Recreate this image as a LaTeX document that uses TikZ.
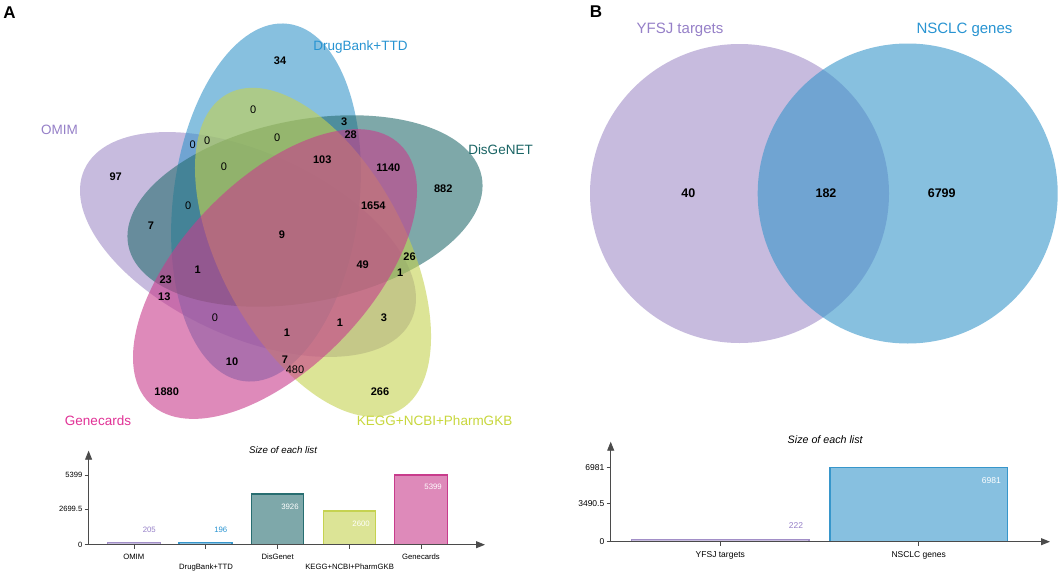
\documentclass[tikz,border=0pt]{standalone}
\usepackage{fontspec}
\setmainfont{Liberation Sans}
\usetikzlibrary{arrows.meta}
\definecolor{cOmim}{RGB}{162,143,200}
\definecolor{cDrug}{RGB}{55,150,203}
\definecolor{cDis}{RGB}{40,110,113}
\definecolor{cKegg}{RGB}{197,210,80}
\definecolor{cGene}{RGB}{200,60,140}
\definecolor{tOmim}{RGB}{150,128,200}
\definecolor{tDrug}{RGB}{40,148,210}
\definecolor{tDis}{RGB}{25,100,100}
\definecolor{tKegg}{RGB}{200,215,60}
\definecolor{tGene}{RGB}{225,50,150}
\definecolor{axisgray}{RGB}{75,75,75}
\begin{document}
\begin{tikzpicture}[x=1pt,y=-1pt,
  venn/.style={fill opacity=0.6},
  setlab/.style={font=\fontsize{13.5}{16}\selectfont, inner sep=0, anchor=base},
  blab/.style={font=\fontsize{15}{18}\selectfont, inner sep=0, anchor=base},
  nb/.style={font=\fontsize{11}{13}\selectfont\bfseries, inner sep=0},
  nn/.style={font=\fontsize{11}{13}\selectfont, inner sep=0},
  bnum/.style={font=\fontsize{12.5}{15}\selectfont\bfseries, inner sep=0},
  panel/.style={font=\fontsize{17}{20}\selectfont\bfseries, inner sep=0, anchor=base},
  axisline/.style={draw=axisgray, line width=0.9pt, -{Triangle[length=9pt,width=7pt]}},
  tickline/.style={draw=axisgray, line width=0.7pt},
  ticklabA/.style={font=\fontsize{7.6}{9}\selectfont, inner sep=0, anchor=east},
  ticklabB/.style={font=\fontsize{8.5}{10}\selectfont, inner sep=0, anchor=east},
  xlabA/.style={font=\fontsize{7.7}{9}\selectfont, inner sep=0, anchor=base},
  xlabB/.style={font=\fontsize{8.5}{10}\selectfont, inner sep=0, anchor=base},
  valA/.style={font=\fontsize{7.8}{9}\selectfont, inner sep=0, anchor=east},
  valB/.style={font=\fontsize{8.5}{10}\selectfont, inner sep=0, anchor=east},
  bar/.style={line width=1.1pt},
  charttitle/.style={font=\itshape, inner sep=0, anchor=base}
]
\useasboundingbox (0,0) rectangle (1059,570);
\fill[white] (0,0) rectangle (1059,570);

% ---------------- Panel A : five-set Venn ----------------
\coordinate (eOmim) at (248,244.5);
\coordinate (eDrug) at (266,202.5);
\coordinate (eDis)  at (305,211);
\coordinate (eKegg) at (313,252.3);
\coordinate (eGene) at (275,274);
\fill[cOmim, venn, rotate around={-24.7:(eOmim)}] (eOmim) ellipse [x radius=180pt, y radius=92pt];
\fill[cDrug, venn, rotate around={83:(eDrug)}] (eDrug) ellipse [x radius=180pt, y radius=93pt];
\fill[cDis,  venn, rotate around={11:(eDis)}]  (eDis)  ellipse [x radius=180pt, y radius=91pt];
\fill[cKegg, venn, rotate around={-61.7:(eKegg)}] (eKegg) ellipse [x radius=180pt, y radius=92.6pt];
\fill[cGene, venn, rotate around={46:(eGene)}] (eGene) ellipse [x radius=180pt, y radius=93.5pt];

\node[panel] (pA) at (9.5,18.6) {A};
\node[setlab, text=tDrug] (lDrug) at (360.5,50) {DrugBank+TTD};
\node[setlab, text=tOmim] (lOmim) at (59.5,134) {OMIM};
\node[setlab, text=tDis]  (lDis)  at (500.5,154) {DisGeNET};
\node[setlab, text=tGene] (lGene) at (98,425.4) {Genecards};
\node[setlab, text=tKegg] (lKegg) at (434.6,425.4) {KEGG+NCBI+PharmGKB};

\node[nb] (r1)  at (280,61) {34};
\node[nn] (r2)  at (253.3,110) {0};
\node[nb] (r3)  at (344.3,122) {3};
\node[nb] (r4)  at (350.7,135) {28};
\node[nn] (r5)  at (192.7,145) {0};
\node[nn] (r6)  at (207.3,140.7) {0};
\node[nn] (r7)  at (277.3,137.7) {0};
\node[nb] (r8)  at (322.3,160) {103};
\node[nb] (r9)  at (388.3,167.3) {1140};
\node[nn] (r10) at (224,166.7) {0};
\node[nb] (r11) at (115.7,176.7) {97};
\node[nb] (r12) at (443.3,188.3) {882};
\node[nn] (r13) at (188.3,206) {0};
\node[nb] (r14) at (373.3,206) {1654};
\node[nb] (r15) at (151,225.7) {7};
\node[nb] (r16) at (282,235) {9};
\node[nb] (r17) at (409.5,256.5) {26};
\node[nb] (r18) at (362.7,264.3) {49};
\node[nb] (r19) at (197.7,270) {1};
\node[nb] (r20) at (400.3,272.5) {1};
\node[nb] (r21) at (165.7,280) {23};
\node[nb] (r22) at (164.3,296.7) {13};
\node[nn] (r23) at (215,318) {0};
\node[nb] (r24) at (384,318) {3};
\node[nb] (r25) at (340,322.7) {1};
\node[nb] (r26) at (287,332.7) {1};
\node[nb] (r27) at (232,362) {10};
\node[nb] (r28) at (285,360) {7};
\node[nn] (r29) at (295,369.5) {480};
\node[nb] (r30) at (166.7,391.7) {1880};
\node[nb] (r31) at (380,391.7) {266};

% ---------------- Panel A : bar chart ----------------
\node[charttitle, font=\fontsize{9.7}{11}\selectfont\itshape] (tA) at (283,453.5) {Size of each list};
\draw[bar, draw=cOmim, fill=cOmim!60] (107.5,544.7) rectangle (160.2,542.1);
\draw[bar, draw=cDrug, fill=cDrug!60] (179,544.7) rectangle (232,542.2);
\draw[bar, draw=cDis,  fill=cDis!60]  (251.5,544.7) rectangle (303.5,494);
\draw[bar, draw=cKegg, fill=cKegg!60] (323.5,544.7) rectangle (375.2,511);
\draw[bar, draw=cGene, fill=cGene!60] (394.8,544.7) rectangle (447.2,475);
\coordinate (Ao) at (88.6,544.7);
\coordinate (AyTip) at (88.6,450.7);
\coordinate (AxTip) at (485,544.7);
\draw[axisline] (Ao) -- (AyTip);
\draw[axisline] (Ao) -- (AxTip);
\foreach \yy in {475,509.2,544.7} \draw[tickline] (84.6,\yy) -- (88.6,\yy);
\foreach \xx in {134,205.5,277.5,349.4,421} \draw[tickline] (\xx,544.7) -- (\xx,548.5);
\node[ticklabA] (ya1) at (82.5,475) {5399};
\node[ticklabA] (ya2) at (82.5,509.2) {2699.5};
\node[ticklabA] (ya3) at (82.5,544.7) {0};
\node[valA, text=tOmim] (va1) at (156,529.5) {205};
\node[valA, text=tDrug] (va2) at (227.5,529.5) {196};
\node[valA, text=white] (va3) at (298.8,506.5) {3926};
\node[valA, text=white] (va4) at (370,523.4) {2600};
\node[valA, text=white] (va5) at (442,487.2) {5399};
\node[xlabA] (xa1) at (133.8,559.5) {OMIM};
\node[xlabA] (xa2) at (206,569.3) {DrugBank+TTD};
\node[xlabA] (xa3) at (277.6,559.5) {DisGenet};
\node[xlabA] (xa4) at (349.6,569.3) {KEGG+NCBI+PharmGKB};
\node[xlabA] (xa5) at (421,559.5) {Genecards};

% ---------------- Panel B : two-set Venn ----------------
\node[panel] (pB) at (596,17.8) {B};
\coordinate (cY) at (739.5,193.5);
\coordinate (cN) at (907.7,193.5);
\fill[cOmim, venn] (cY) circle [radius=149.5pt];
\fill[cDrug, venn] (cN) circle [radius=150pt];
\node[blab, text=tOmim] (lY) at (680,33.3) {YFSJ targets};
\node[blab, text=tDrug] (lN) at (964.5,33.3) {NSCLC genes};
\node[bnum] (b1) at (688.3,192.8) {40};
\node[bnum] (b2) at (826,192.8) {182};
\node[bnum] (b3) at (941.7,192.8) {6799};

% ---------------- Panel B : bar chart ----------------
\node[charttitle, font=\fontsize{10.7}{12}\selectfont\itshape] (tB) at (825.2,443.3) {Size of each list};
\draw[bar, draw=cOmim, fill=cOmim!60] (631.7,541.7) rectangle (809,539.3);
\draw[bar, draw=cDrug, fill=cDrug!60] (830,541.7) rectangle (1007.3,467.3);
\coordinate (Bo) at (610.7,541.7);
\coordinate (ByTip) at (610.7,441.7);
\coordinate (BxTip) at (1050,541.7);
\draw[axisline] (Bo) -- (ByTip);
\draw[axisline] (Bo) -- (BxTip);
\foreach \yy in {467.3,503.3,541.7} \draw[tickline] (606.7,\yy) -- (610.7,\yy);
\foreach \xx in {720.3,918.7} \draw[tickline] (\xx,541.7) -- (\xx,545.5);
\node[ticklabB] (yb1) at (604.5,467.3) {6981};
\node[ticklabB] (yb2) at (604.5,503.3) {3490.5};
\node[ticklabB] (yb3) at (604.5,541.7) {0};
\node[valB, text=tOmim] (vb1) at (803.3,526) {222};
\node[valB, text=white] (vb2) at (1001,480.7) {6981};
\node[xlabB] (xb1) at (720.3,557.7) {YFSJ targets};
\node[xlabB] (xb2) at (918.7,557.7) {NSCLC genes};
\end{tikzpicture}
\end{document}
